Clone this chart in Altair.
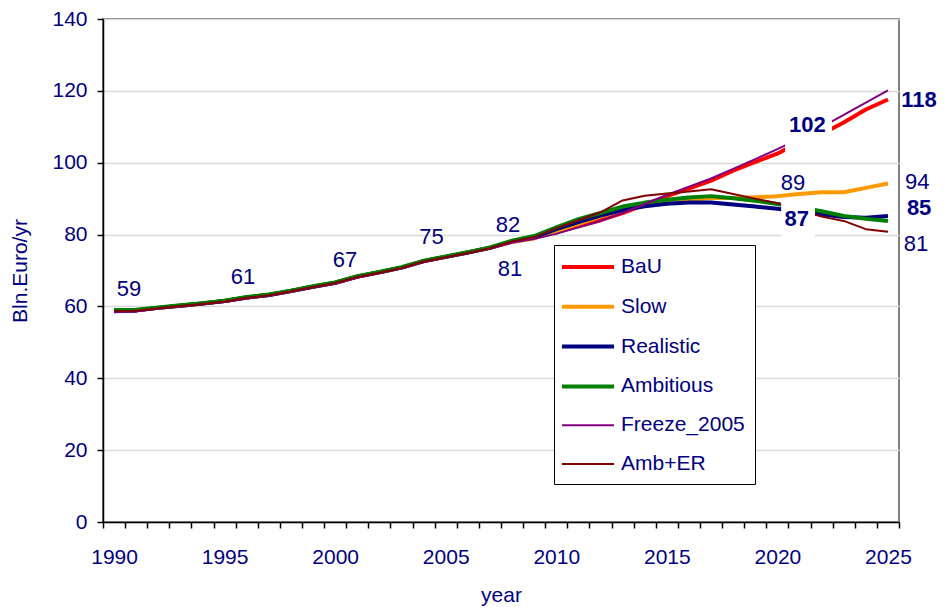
import altair as alt
import pandas as pd

# ---------------- data ----------------
years = list(range(1990, 2026))
series_order = ["BaU", "Slow", "Realistic", "Ambitious", "Freeze_2005", "Amb+ER"]
series_colors = ["#FF0000", "#FF9900", "#000080", "#008000", "#800080", "#800000"]
series_widths = [4, 4, 4, 4, 2, 2]

bau = [58.8, 58.9, 59.6, 60.2, 60.8, 61.5, 62.5, 63.2, 64.3, 65.5, 66.6, 68.3,
       69.5, 70.8, 72.6, 73.8, 75.0, 76.3, 78.0, 79.0, 80.8, 82.3, 84.0, 86.0,
       88.3, 90.7, 92.8, 95.0, 97.8, 100.2, 102.5, 105.8, 108.0, 111.2, 114.8, 117.6]
slow = [58.8, 58.9, 59.6, 60.2, 60.8, 61.5, 62.5, 63.2, 64.3, 65.5, 66.6, 68.3,
        69.5, 70.8, 72.6, 73.8, 75.0, 76.3, 78.0, 79.0, 81.0, 83.0, 85.0, 86.8,
        88.0, 89.0, 89.7, 90.2, 90.2, 90.4, 90.7, 91.3, 91.8, 91.8, 93.0, 94.2]
realistic = [58.8, 58.9, 59.6, 60.2, 60.8, 61.5, 62.5, 63.2, 64.3, 65.5, 66.6, 68.3,
             69.5, 70.8, 72.6, 73.8, 75.0, 76.3, 78.1, 79.2, 81.5, 83.5, 85.3, 86.8,
             87.9, 88.6, 88.9, 88.9, 88.4, 87.8, 87.2, 86.4, 85.6, 84.9, 84.7, 85.2]
ambitious = [59.0, 59.1, 59.7, 60.3, 60.9, 61.6, 62.6, 63.3, 64.4, 65.6, 66.7, 68.4,
             69.6, 70.9, 72.7, 73.9, 75.1, 76.4, 78.3, 79.6, 82.0, 84.3, 86.0, 87.8,
             88.9, 89.7, 90.3, 90.7, 90.1, 89.4, 88.5, 87.6, 86.5, 85.2, 84.4, 83.8]
freeze = [58.4, 58.6, 59.4, 60.0, 60.6, 61.2, 62.2, 63.0, 64.1, 65.3, 66.3, 68.0,
          69.3, 70.6, 72.3, 73.6, 74.8, 76.1, 77.8, 78.8, 80.2, 82.0, 83.8, 86.0,
          88.5, 91.0, 93.3, 95.6, 98.3, 101.0, 103.8, 106.7, 109.9, 113.3, 116.7, 120.1]
amb_er = [58.7, 58.8, 59.5, 60.1, 60.7, 61.4, 62.4, 63.1, 64.2, 65.4, 66.5, 68.2,
          69.4, 70.7, 72.5, 73.7, 74.9, 76.2, 78.1, 79.3, 81.8, 84.0, 86.2, 89.5,
          90.8, 91.4, 92.0, 92.6, 91.3, 90.0, 88.7, 86.8, 85.0, 83.8, 81.5, 80.8]
series_values = [bau, slow, realistic, ambitious, freeze, amb_er]

# data labels: text, anchor year, anchor value, bold
label_text = ["59", "61", "67", "75", "82", "81", "89", "94", "81", "102", "87", "118", "85"]
label_year = [1990.68, 1995.83, 2000.44, 2004.36, 2007.82, 2007.91, 2020.71, 2026.32,
              2026.27, 2021.36, 2020.87, 2026.40, 2026.41]
label_value = [62.8, 66.2, 71.0, 77.3, 80.7, 68.5, 92.3, 92.6, 75.4, 108.5, 82.4, 115.5, 85.4]
label_bold = [False, False, False, False, False, False, False, False, False, True, True, True, True]

# white background boxes of the two bold data labels (year/value extents)
box_year0 = [2020.35, 2020.17]
box_year1 = [2022.47, 2021.70]
box_val0 = [101.5, 78.6]
box_val1 = [117.0, 89.6]

y_ticks = [0, 20, 40, 60, 80, 100, 120, 140]

# ---------------- build tables ----------------
rows = []
for s, vals in zip(series_order, series_values):
    for yr, v in zip(years, vals):
        rows.append({"year": yr, "value": v, "series": s})
df = pd.DataFrame(rows)

labels = pd.DataFrame({"text": label_text, "year": label_year,
                       "value": label_value, "bold": label_bold})
boxes = pd.DataFrame({"x0": box_year0, "x1": box_year1, "y0": box_val0, "y1": box_val1})

NAVY = "#000080"
FONT = "Liberation Sans"

x_scale = alt.Scale(domain=[years[0] - 0.5, years[-1] + 0.5], nice=False, zero=False)
y_scale = alt.Scale(domain=[y_ticks[0], y_ticks[-1]], nice=False, zero=False)
tick_vals = [years[0] - 0.5 + i for i in range(len(years) + 1)]

x_axis = alt.Axis(
    values=tick_vals, tickCount=200,
    labelExpr="((datum.value + 0.5) % 5 == 0) ? format(datum.value + 0.5, 'd') : ''",
    labelOffset=11.06, labelOverlap=False, labelFlush=False,
    tickSize=6, tickColor="black", tickWidth=1.5,
    domainColor="black", domainWidth=1.5, grid=False,
    labelPadding=18, title="year", titlePadding=17,
)
y_axis = alt.Axis(
    values=y_ticks, tickCount=50, tickSize=6, tickColor="black", tickWidth=1.5,
    domainColor="black", domainWidth=1.5,
    grid=True, gridColor="#d9d9d9", gridWidth=1.5,
    labelPadding=10, title="Bln.Euro/yr", titlePadding=21,
)

leg = alt.Legend(
    orient="none", legendX=451, legendY=226, title=None,
    symbolType="M-1.4,0H3.8", symbolSize=400,
    labelOffset=33, rowPadding=17.8, padding=10,
    strokeColor="black", fillColor="white",
    labelFontSize=21, labelColor=NAVY, labelFont=FONT, labelLimit=300,
)

X = alt.X("year:Q", scale=x_scale, axis=x_axis)
Y = alt.Y("value:Q", scale=y_scale, axis=y_axis)

base = alt.Chart(df).mark_line(strokeCap="butt", strokeJoin="round").encode(
    x=X, y=Y,
    color=alt.Color("series:N", scale=alt.Scale(domain=series_order, range=series_colors),
                    legend=leg, sort=series_order),
    strokeWidth=alt.StrokeWidth("series:N",
                                scale=alt.Scale(type="ordinal", domain=series_order, range=series_widths),
                                legend=leg, sort=series_order),
)
line_layers = [base.transform_filter(alt.datum.series == s) for s in series_order]

box_layer = alt.Chart(boxes).mark_rect(color="white").encode(
    x=alt.X("x0:Q", scale=x_scale, axis=x_axis), x2="x1:Q",
    y=alt.Y("y0:Q", scale=y_scale, axis=y_axis), y2="y1:Q"
)

text_normal = alt.Chart(labels).transform_filter("!datum.bold").mark_text(
    align="center", baseline="alphabetic", fontSize=22, font=FONT, color=NAVY
).encode(x=X, y=Y, text="text:N")

text_bold = alt.Chart(labels).transform_filter("datum.bold").mark_text(
    align="center", baseline="alphabetic", fontSize=22, font=FONT, color=NAVY,
    fontWeight="bold"
).encode(x=X, y=Y, text="text:N")

chart = alt.layer(*line_layers, box_layer, text_normal, text_bold).properties(
    width=796, height=503,
    padding={"left": 95, "top": 11, "right": 38, "bottom": 84},
    autosize=alt.AutoSizeParams(type="none"),
    background="white",
).configure_view(
    stroke="#808080", strokeWidth=2
).configure_axis(
    labelFont=FONT, labelFontSize=21, labelColor=NAVY,
    titleFont=FONT, titleFontSize=21, titleColor=NAVY, titleFontWeight="normal",
)

chart.save("out.html", embed_options={"renderer": "svg", "actions": False})
